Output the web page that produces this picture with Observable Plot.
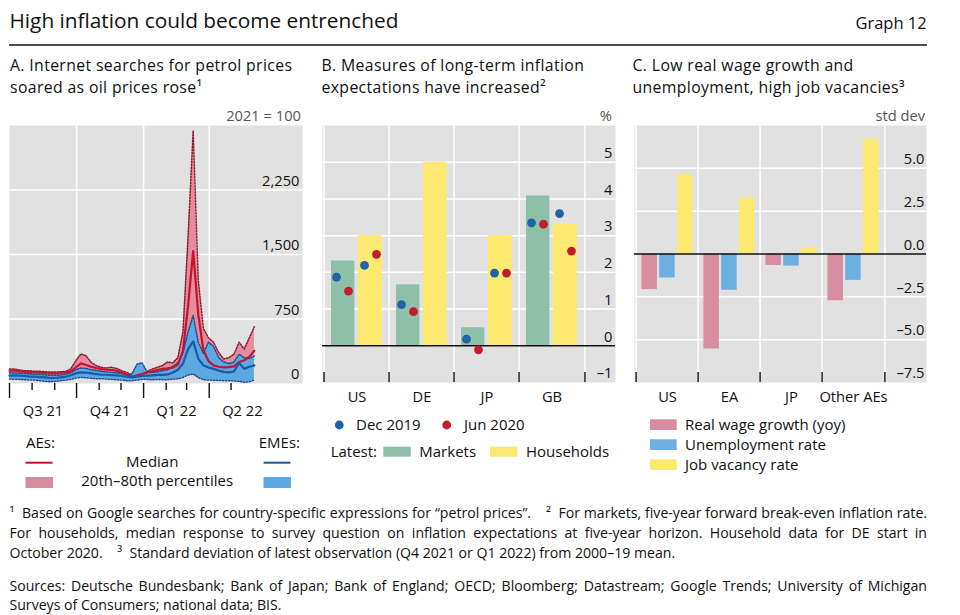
<!DOCTYPE html>
<html>
<head>
<meta charset="utf-8">
<script src="https://cdn.jsdelivr.net/npm/d3@7"></script>
<script src="https://cdn.jsdelivr.net/npm/@observablehq/plot@0.6"></script>
<style>
  html, body { margin: 0; padding: 0; background: #fff; }
  #chart { position: relative; width: 960px; height: 615px; overflow: hidden; font-family: "Open Sans", sans-serif; }
  #chart > svg { position: absolute; }
</style>
</head>
<body>
<div id="chart"></div>
<script>
// ---------------- Panel A: Internet searches (2021 = 100), weekly from Jul 2021 ----------------
const aFirstWeek = "2021-07-01";
const aeMedian  = [149,149,141,137,129,129,126,122,118,118,122,129,141,188,234,215,195,180,168,160,157,149,129,102,79,95,110,129,141,157,170,175,185,220,380,900,1540,800,390,260,210,195,188,190,200,250,270,310,380];
const aeLower   = [110,110,105,100,95,95,92,90,88,88,90,95,105,140,170,160,150,140,130,125,120,115,100,80,60,70,85,95,105,115,120,130,140,160,220,400,700,450,260,180,150,140,130,130,140,160,170,190,220];
const aeUpper   = [168,168,157,149,149,141,141,137,133,133,137,141,168,265,343,323,246,207,188,180,188,176,149,129,102,118,129,141,168,188,210,250,240,300,600,1700,2940,1200,640,530,480,360,285,300,340,480,400,530,660];
const emeMedian = [91,95,91,87,79,79,75,71,64,64,71,79,95,118,129,126,118,110,102,102,98,95,87,79,71,79,87,91,95,100,100,105,125,160,230,400,490,290,210,185,170,150,135,130,140,240,170,195,210];
const emeLower  = [52,48,48,44,40,40,33,25,21,25,33,40,48,64,71,67,60,56,56,52,48,44,40,33,33,40,48,48,44,48,45,45,50,55,70,100,110,70,45,40,38,35,33,33,30,25,15,20,40];
const emeUpper  = [125,122,118,115,110,108,105,100,95,95,100,108,125,160,180,175,160,150,140,135,130,125,115,105,110,225,240,130,130,135,150,160,200,240,360,600,790,480,350,480,430,300,250,230,250,340,300,290,320];
const quarterStarts = ["2021-07-01","2021-10-01","2022-01-01","2022-04-01","2022-07-01"];
const monthTicks = ["2021-08-01","2021-09-01","2021-11-01","2021-12-01","2022-02-01","2022-03-01","2022-05-01"];
const quarterLabels = ["Q3 21","Q4 21","Q1 22","Q2 22"];
const yTicksA = [0, 750, 1500, 2250];

// ---------------- Panel B: long-term inflation expectations (%) ----------------
const countriesB = ["US","DE","JP","GB"];
const marketsLatest    = [2.31, 1.66, 0.49, 4.08];
const householdsLatest = [3.0, 5.0, 3.0, 3.3];
const marketsDec19     = [1.87, 1.12, 0.18, 3.35];
const marketsJun20     = [1.49, 0.93, -0.11, 3.31];
const householdsDec19  = [2.19, null, 1.98, 3.6];
const householdsJun20  = [2.49, null, 1.98, 2.58];
const yTicksB = [-1, 0, 1, 2, 3, 4, 5];

// ---------------- Panel C: std dev from 2000–19 mean ----------------
const regionsC = ["US","EA","JP","Other AEs"];
const realWageGrowth = [-2.08, -5.54, -0.67, -2.73];
const unemploymentRate = [-1.40, -2.12, -0.71, -1.54];
const jobVacancyRate = [4.65, 3.27, 0.38, 6.69];
const yTicksC = [-7.5, -5, -2.5, 0, 2.5, 5];

// ---------------- styles ----------------
const FONT = "'Open Sans', sans-serif";
const BG = "#e1e1e1";
const WHITE = {stroke: "#fff", strokeOpacity: 1, strokeWidth: 1.5};
const AE_RED = "#c4122f", AE_FILL = "#e68c9f", AE_EDGE = "#8a1c30";
const EME_BLUE = "#1b58a5", EME_FILL = "#5ca8e3", EME_EDGE = "#1d4d8c";
const GREEN = "#8dbfa9", YELLOW = "#fde870", DOT_BLUE = "#1f62a9", DOT_RED = "#c01e2e";
const PINK = "#d88ca0", LBLUE = "#6cb0e2";
const AXFS = 14.7;
const DOTTED = {strokeWidth: 1.5, strokeDasharray: "1.4 1.6"};
const dash = s => s.replace("-", "–");
const chart = document.getElementById("chart");
function place(svg, left, top) { svg.style.left = left + "px"; svg.style.top = top + "px"; chart.appendChild(svg); }

// ---------------- Panel A plot ----------------
const parse = d3.utcParse("%Y-%m-%d");
const start = parse(aFirstWeek);
const rowsA = aeMedian.map((v, i) => ({
  date: d3.utcDay.offset(start, 7 * i),
  aeMedian: v, aeLower: aeLower[i], aeUpper: aeUpper[i],
  emeMedian: emeMedian[i], emeLower: emeLower[i], emeUpper: emeUpper[i]
}));
const qDates = quarterStarts.map(parse);
const qLabelRows = quarterLabels.map((t, i) => ({label: t, mid: new Date((+qDates[i] + +qDates[i + 1]) / 2)}));
const hA = 330, mtA = 25, mbA = 47;
const pxA = 3000 / (hA - mtA - mbA); // data units per pixel
const plotA = Plot.plot({
  width: 310, height: hA, marginLeft: 9, marginRight: 8, marginTop: mtA, marginBottom: mbA,
  style: {background: "transparent", fontFamily: FONT, fontSize: AXFS + "px", color: "#111"},
  x: {type: "utc", domain: [parse("2021-07-01"), parse("2022-08-07")], axis: null},
  y: {domain: [0, 3000], axis: null},
  marks: [
    Plot.frame({fill: BG, stroke: null}),
    Plot.gridY(yTicksA.slice(1), WHITE),
    Plot.gridX(qDates.slice(1, 4), WHITE),
    Plot.areaY(rowsA, {x: "date", y1: "aeLower", y2: "aeUpper", fill: AE_FILL}),
    Plot.lineY(rowsA, {x: "date", y: "aeLower", stroke: AE_EDGE, ...DOTTED}),
    Plot.lineY(rowsA, {x: "date", y: "aeUpper", stroke: AE_EDGE, ...DOTTED}),
    Plot.areaY(rowsA, {x: "date", y1: "emeLower", y2: "emeUpper", fill: EME_FILL}),
    Plot.lineY(rowsA, {x: "date", y: "emeLower", stroke: EME_EDGE, ...DOTTED}),
    Plot.lineY(rowsA, {x: "date", y: "emeUpper", stroke: EME_EDGE, ...DOTTED}),
    Plot.lineY(rowsA, {x: "date", y: "aeMedian", stroke: AE_RED, strokeWidth: 2.2}),
    Plot.lineY(rowsA, {x: "date", y: "emeMedian", stroke: EME_BLUE, strokeWidth: 2.2}),
    Plot.ruleX(qDates.slice(0, 4), {x: d => d, y1: 0, y2: -15 * pxA, stroke: "#111", strokeWidth: 1.4}),
    Plot.ruleX(monthTicks.map(parse), {x: d => d, y1: 0, y2: -7 * pxA, stroke: "#111", strokeWidth: 1.4}),
    Plot.text(qLabelRows, {x: "mid", text: "label", frameAnchor: "bottom", lineAnchor: "middle", dy: 27.5, fill: "#111"}),
    Plot.text(yTicksA, {y: d => d, text: d => d3.format(",")(d), frameAnchor: "right", textAnchor: "end", lineAnchor: "middle", dx: -3, dy: -9, fill: "#111"})
  ]
});
place(plotA, 0, 100);

// ---------------- Panel B plot ----------------
const rowsB = countriesB.map((c, i) => ({
  country: c, markets: marketsLatest[i], households: householdsLatest[i],
  mDec: marketsDec19[i], mJun: marketsJun20[i], hDec: householdsDec19[i], hJun: householdsJun20[i]
}));
const bwB = 65.9, hB = 320, mtB = 25, mbB = 38;
const pxB = 7 / (hB - mtB - mbB);
const plotB = Plot.plot({
  width: 320, height: hB, marginLeft: 12, marginRight: 15, marginTop: mtB, marginBottom: mbB,
  style: {background: "transparent", fontFamily: FONT, fontSize: AXFS + "px", color: "#111"},
  x: {type: "band", domain: countriesB, range: [12, 12 + 4 * bwB], padding: 0, axis: null},
  y: {domain: [-1, 6], axis: null},
  marks: [
    Plot.frame({fill: BG, stroke: null}),
    Plot.gridY(yTicksB.filter(d => d > 0), WHITE),
    Plot.ruleX(countriesB, {x: d => d, dx: -bwB / 2, ...WHITE}),
    Plot.ruleX(countriesB.slice(-1), {x: d => d, dx: bwB / 2, ...WHITE}),
    Plot.barY(rowsB, {x: "country", y: "markets", fill: GREEN, insetLeft: 7, insetRight: 34.6}),
    Plot.barY(rowsB, {x: "country", y: "households", fill: YELLOW, insetLeft: 34, insetRight: 7.2}),
    Plot.ruleY([0], {stroke: "#111", strokeWidth: 1.6}),
    Plot.ruleX(countriesB, {x: d => d, dx: -bwB / 2, y1: -1, y2: -1 + 10 * pxB, stroke: "#111", strokeWidth: 1.4}),
    Plot.ruleX(countriesB.slice(-1), {x: d => d, dx: bwB / 2, y1: -1, y2: -1 + 10 * pxB, stroke: "#111", strokeWidth: 1.4}),
    Plot.dot(rowsB, {x: "country", y: "mDec", fill: DOT_BLUE, r: 4.4, dx: -20.5}),
    Plot.dot(rowsB, {x: "country", y: "mJun", fill: DOT_RED, r: 4.4, dx: -8.5}),
    Plot.dot(rowsB.filter(d => d.hDec != null), {x: "country", y: "hDec", fill: DOT_BLUE, r: 4.4, dx: 7.5}),
    Plot.dot(rowsB.filter(d => d.hJun != null), {x: "country", y: "hJun", fill: DOT_RED, r: 4.4, dx: 19.5}),
    Plot.text(countriesB, {x: d => d, text: d => d, frameAnchor: "bottom", lineAnchor: "middle", dy: 14.8, fill: "#111"}),
    Plot.text(yTicksB, {y: d => d, text: d => dash(String(d)), frameAnchor: "right", textAnchor: "end", lineAnchor: "middle", dx: -3, dy: -9, fill: "#111"})
  ]
});
place(plotB, 310, 100);

// ---------------- Panel C plot ----------------
const rowsC = regionsC.map((r, i) => ({region: r, wage: realWageGrowth[i], unemp: unemploymentRate[i], vac: jobVacancyRate[i]}));
const bwC = 62.8, hC = 320, mtC = 25, mbC = 38;
const pxC = 15 / (hC - mtC - mbC);
const plotC = Plot.plot({
  width: 320, height: hC, marginLeft: 14, marginRight: 14, marginTop: mtC, marginBottom: mbC,
  style: {background: "transparent", fontFamily: FONT, fontSize: AXFS + "px", color: "#111"},
  x: {type: "band", domain: regionsC, range: [14, 14 + 4 * bwC], padding: 0, axis: null},
  y: {domain: [-7.5, 7.5], axis: null},
  marks: [
    Plot.frame({fill: BG, stroke: null}),
    Plot.gridY(yTicksC.filter(d => d !== 0 && d > -7.5), WHITE),
    Plot.ruleX(regionsC, {x: d => d, dx: -bwC / 2, ...WHITE}),
    Plot.ruleX(regionsC.slice(-1), {x: d => d, dx: bwC / 2, ...WHITE}),
    Plot.barY(rowsC, {x: "region", y: "wage", fill: PINK, insetLeft: 5.4, insetRight: 41.1}),
    Plot.barY(rowsC, {x: "region", y: "unemp", fill: LBLUE, insetLeft: 23.2, insetRight: 23.3}),
    Plot.barY(rowsC, {x: "region", y: "vac", fill: YELLOW, insetLeft: 41, insetRight: 5.5}),
    Plot.ruleY([0], {stroke: "#111", strokeWidth: 1.6}),
    Plot.ruleX(regionsC, {x: d => d, dx: -bwC / 2, y1: -7.5, y2: -7.5 + 10 * pxC, stroke: "#111", strokeWidth: 1.4}),
    Plot.ruleX(regionsC.slice(-1), {x: d => d, dx: bwC / 2, y1: -7.5, y2: -7.5 + 10 * pxC, stroke: "#111", strokeWidth: 1.4}),
    Plot.text(regionsC, {x: d => d, text: d => d, frameAnchor: "bottom", lineAnchor: "middle", dy: 14.8, fill: "#111"}),
    Plot.text(yTicksC, {y: d => d, text: d => dash(d.toFixed(1)), frameAnchor: "right", textAnchor: "end", lineAnchor: "middle", dx: -2, dy: -9, fill: "#111"})
  ]
});
place(plotC, 620, 100);

// ---------------- overlay: titles, legends, notes ----------------
const svg = d3.select(chart).append("svg").attr("width", 960).attr("height", 615)
  .style("left", "0px").style("top", "0px").style("pointer-events", "none")
  .style("font-family", FONT).attr("fill", "#111");
function label(x, y, s, {size = 15, anchor = "start", fill = "#111", spacing = 0} = {}) {
  return svg.append("text").attr("x", x).attr("y", y).attr("font-size", size)
    .attr("text-anchor", anchor).attr("fill", fill).attr("letter-spacing", spacing).text(s);
}
const tmp = svg.append("text").style("white-space", "pre").attr("opacity", 0);
function measure(t, size) { tmp.attr("font-size", size).text(t); return tmp.node().getComputedTextLength(); }
function line(x0, x1, y, s, size, justify) {
  const tokens = s.split(/( +)/);
  const spaceW = measure("a a", size) - measure("aa", size);
  let natural = 0, gaps = 0;
  tokens.forEach((t, i) => { if (i % 2) { natural += t.length * spaceW; gaps++; } else natural += measure(t, size); });
  const extra = justify && gaps ? (x1 - x0 - natural) / gaps : 0;
  const el = svg.append("text").attr("y", y).attr("font-size", size).attr("fill", "#111");
  let x = x0;
  tokens.forEach((t, i) => {
    if (i % 2) x += t.length * spaceW + extra;
    else { el.append("tspan").attr("x", x).text(t); x += measure(t, size); }
  });
}

// Title block
label(9.5, 28.3, "High inflation could become entrenched", {size: 20.8});
label(926.7, 29.3, "Graph 12", {size: 16.5, anchor: "end"});
svg.append("line").attr("x1", 9).attr("x2", 927).attr("y1", 45).attr("y2", 45).attr("stroke", "#111").attr("stroke-width", 1.3);

// Panel titles (two lines each)
const PT = 15.8, PLS = 0.36, L1 = 70.9, L2 = 92.6;
[[10, "A. Internet searches for petrol prices", "soared as oil prices rose¹"],
 [321.5, "B. Measures of long-term inflation", "expectations have increased²"],
 [632.5, "C. Low real wage growth and", "unemployment, high job vacancies³"]].forEach(([x, a, b]) => {
  label(x, L1, a, {size: PT, spacing: PLS});
  label(x, L2, b, {size: PT, spacing: PLS});
});

// Units
label(301, 120.5, "2021 = 100", {size: AXFS, anchor: "end", fill: "#555"});
label(612, 120.5, "%", {size: AXFS, anchor: "end", fill: "#555"});
label(925, 120.5, "std dev", {size: AXFS, anchor: "end", fill: "#555"});

// Panel A legend
const LF = 15;
label(26, 448.3, "AEs:", {size: LF});
label(300, 448.3, "EMEs:", {size: LF, anchor: "end"});
svg.append("line").attr("x1", 25.5).attr("x2", 52.5).attr("y1", 462.7).attr("y2", 462.7).attr("stroke", AE_RED).attr("stroke-width", 2);
svg.append("line").attr("x1", 263.5).attr("x2", 290.5).attr("y1", 462.7).attr("y2", 462.7).attr("stroke", EME_BLUE).attr("stroke-width", 2);
label(152.2, 467.3, "Median", {size: LF, anchor: "middle"});
svg.append("rect").attr("x", 25.5).attr("y", 477).attr("width", 27.5).attr("height", 11).attr("fill", "#d98a9f");
svg.append("rect").attr("x", 263.5).attr("y", 477).attr("width", 27.5).attr("height", 11).attr("fill", EME_FILL);
label(157.2, 486, "20th–80th percentiles", {size: LF, anchor: "middle"});

// Panel B legend
svg.append("circle").attr("cx", 339.3).attr("cy", 425).attr("r", 4.4).attr("fill", DOT_BLUE);
label(356, 430.3, "Dec 2019", {size: LF});
svg.append("circle").attr("cx", 446.7).attr("cy", 425).attr("r", 4.4).attr("fill", DOT_RED);
label(464, 430.3, "Jun 2020", {size: LF});
label(330.7, 457.3, "Latest:", {size: LF});
svg.append("rect").attr("x", 383.3).attr("y", 446.7).attr("width", 27.4).attr("height", 10).attr("fill", GREEN);
label(419.3, 457.3, "Markets", {size: LF});
svg.append("rect").attr("x", 490).attr("y", 446.7).attr("width", 27.4).attr("height", 10).attr("fill", YELLOW);
label(526, 457.3, "Households", {size: LF});

// Panel C legend
[["Real wage growth (yoy)", PINK, 419.3], ["Unemployment rate", LBLUE, 439.3], ["Job vacancy rate", YELLOW, 459.3]].forEach(([t, c, y]) => {
  svg.append("rect").attr("x", 650).attr("y", y).attr("width", 26.7).attr("height", 10.7).attr("fill", c);
  label(685, y + 10.9, t, {size: LF});
});

// Footnotes
const FN = 14.1;
line(9.5, 927, 518.3, "¹  Based on Google searches for country-specific expressions for “petrol prices”.    ²  For markets, five-year forward break-even inflation rate.", FN, true);
line(9.5, 927, 537.9, "For households, median response to survey question on inflation expectations at five-year horizon. Household data for DE start in", FN, true);
line(9.5, 927, 557.5, "October 2020.    ³  Standard deviation of latest observation (Q4 2021 or Q1 2022) from 2000–19 mean.", FN, false);
line(9.5, 927, 590.5, "Sources: Deutsche Bundesbank; Bank of Japan; Bank of England; OECD; Bloomberg; Datastream; Google Trends; University of Michigan", FN, true);
line(9.5, 927, 609.8, "Surveys of Consumers; national data; BIS.", FN, false);
tmp.remove();
</script>
</body>
</html>
